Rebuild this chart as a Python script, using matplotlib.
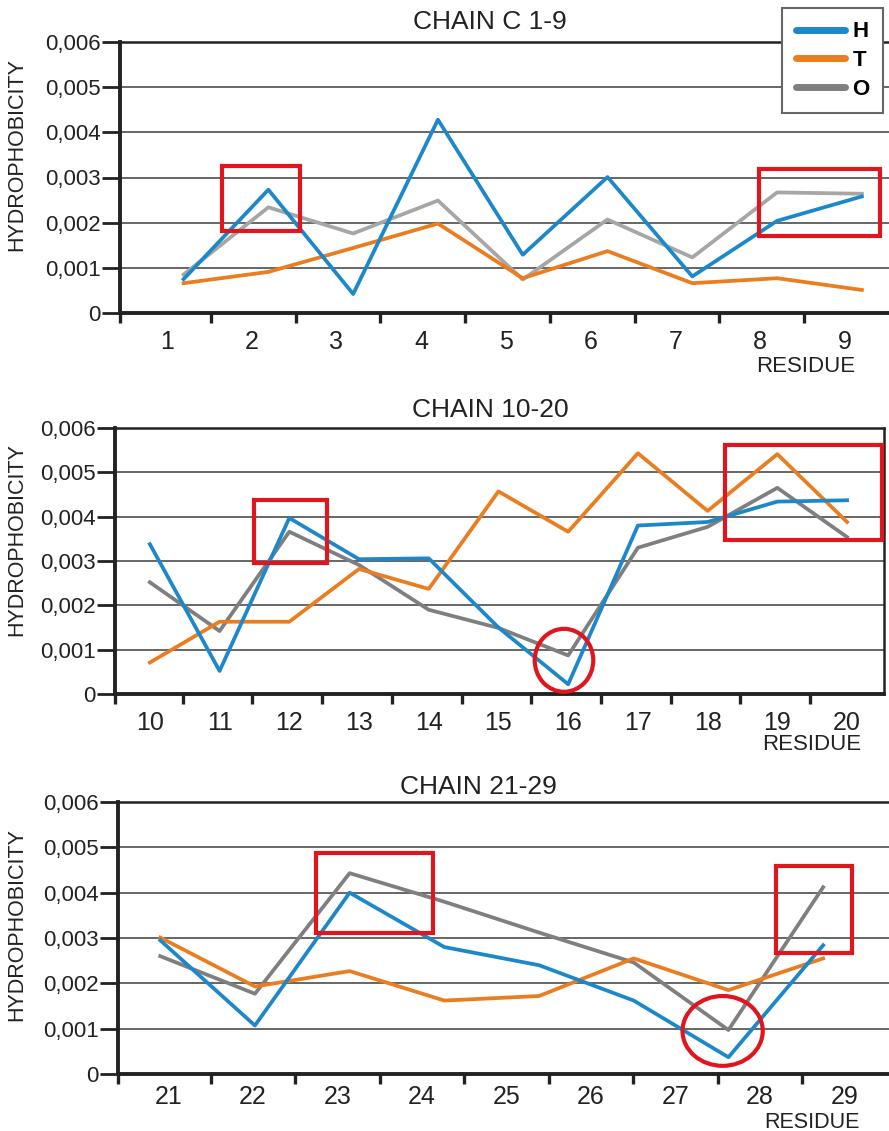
import numpy as np
import matplotlib
matplotlib.use('Agg')
import matplotlib.pyplot as plt
from matplotlib.lines import Line2D
from matplotlib.patches import Rectangle, Ellipse

plt.rcParams['font.family'] = ['Liberation Sans', 'DejaVu Sans']

# chain C 1-9
res1 = [1, 2, 3, 4, 5, 6, 7, 8, 9]
h1 = [0.00075, 0.00273, 0.00042, 0.00428, 0.00129, 0.00301, 0.00081, 0.00204, 0.00258]
t1 = [0.00066, 0.00091, 0.00144, 0.00198, 0.00077, 0.00137, 0.00066, 0.00077, 0.00051]
o1 = [0.00085, 0.00234, 0.00176, 0.00249, 0.00074, 0.00207, 0.00123, 0.00267, 0.00264]

# chain 10-20
res2 = [10, 11, 12, 13, 14, 15, 16, 17, 18, 19, 20]
h2 = [0.00338, 0.00052, 0.00397, 0.00304, 0.00306, 0.0015, 0.00022, 0.0038, 0.00388, 0.00434, 0.00437]
t2 = [0.00071, 0.00163, 0.00163, 0.00282, 0.00237, 0.00457, 0.00366, 0.00543, 0.00413, 0.00541, 0.00388]
o2 = [0.00252, 0.00142, 0.00366, 0.00291, 0.0019, 0.00149, 0.00087, 0.0033, 0.00377, 0.00465, 0.00354]

# chain 21-29 (only 8 points are drawn in the original)
res3 = [21, 22, 23, 24, 25, 26, 27, 28, 29]
h3 = [0.00295, 0.00107, 0.004, 0.0028, 0.0024, 0.00162, 0.00037, 0.00284]
t3 = [0.00301, 0.00193, 0.00227, 0.00162, 0.00172, 0.00255, 0.00185, 0.00255]
o3 = [0.0026, 0.00177, 0.00443, 0.0038, 0.00312, 0.00246, 0.00097, 0.00412]

C_H = '#1d88c9'
C_T = '#e97d20'
C_O = '#7f7f7f'
C_O_LIGHT = '#a6a6a6'
RED = '#e0161e'

W, H = 889, 1131
fig = plt.figure(figsize=(W / 100, H / 100), dpi=100)


def box(left, right, top, bottom):
    return [left / W, 1 - bottom / H, (right - left) / W, (bottom - top) / H]


def fmt(v):
    if v == 0:
        return '0'
    return f'{v:.3f}'.replace('.', ',')


def panel(ax, xs, h, t, o, o_col, lab_pos, labels, tick_pos, xlim, right_spine=False, pad=12):
    ax.plot(xs, o, color=o_col, lw=2.7, zorder=3)
    ax.plot(xs, t, color=C_T, lw=2.7, zorder=4)
    ax.plot(xs, h, color=C_H, lw=2.7, zorder=5)
    ax.set_xlim(*xlim)
    ax.set_ylim(0, 0.006)
    yt = np.arange(0, 0.0061, 0.001)
    ax.set_yticks(yt, [fmt(v) for v in yt])
    ax.yaxis.grid(True, color='#5a5a5a', lw=1.3)
    ax.set_axisbelow(True)
    ax.set_xticks(lab_pos, labels)
    ax.set_xticks([xlim[0]] + list(tick_pos), minor=True)
    ax.tick_params(axis='x', which='major', length=0, labelsize=18, pad=pad, labelcolor='#222222')
    ax.tick_params(axis='x', which='minor', length=7, width=2.4, direction='out', color='#222222')
    ax.tick_params(axis='y', length=13, width=2, labelsize=16, pad=1, color='#222222', labelcolor='#222222')
    for s in ['left', 'bottom']:
        ax.spines[s].set_linewidth(2.8)
        ax.spines[s].set_color('#222222')
    ax.spines['top'].set_linewidth(1.8)
    ax.spines['top'].set_color('#222222')
    ax.spines['right'].set_visible(right_spine)
    ax.spines['right'].set_linewidth(1.8)
    ax.spines['right'].set_color('#222222')


ax1 = fig.add_axes(box(120, 889, 42, 313))
ax2 = fig.add_axes(box(115, 884, 428, 694))
ax3 = fig.add_axes(box(118, 889, 802, 1074))

r1 = np.array(res1)
panel(ax1, r1, h1, t1, o1, C_O_LIGHT, r1 - 0.2, res1, r1[:-1] + 0.32, (0.25, 9.32))
r2 = np.array(res2)
panel(ax2, r2, h2, t2, o2, C_O, r2, res2, r2[:-1] + 0.47, (9.5, 20.53), right_spine=True)
r3 = np.array(res3)
x3 = np.linspace(20.9, 28.75, len(h3))
panel(ax3, x3, h3, t3, o3, C_O, r3, res3, r3[:-1] + 0.5, (20.4, 29.53), pad=8)

# red highlight marks
ax1.add_patch(Rectangle((1.45, 0.00182), 0.92, 0.00143, fill=False, ec=RED, lw=3, zorder=6))
ax1.add_patch(Rectangle((7.79, 0.0017), 1.42, 0.00149, fill=False, ec=RED, lw=3, zorder=6))
ax2.add_patch(Rectangle((11.49, 0.00295), 1.05, 0.00142, fill=False, ec=RED, lw=3, zorder=6))
ax2.add_patch(Rectangle((18.25, 0.00347), 2.25, 0.00215, fill=False, ec=RED, lw=3, zorder=6, clip_on=False))
ax2.add_patch(Ellipse((15.94, 0.00076), 0.84, 0.00142, fill=False, ec=RED, lw=3, zorder=6))
ax3.add_patch(Rectangle((22.74, 0.0031), 1.39, 0.00177, fill=False, ec=RED, lw=3, zorder=6))
ax3.add_patch(Rectangle((28.19, 0.00266), 0.9, 0.00193, fill=False, ec=RED, lw=3, zorder=6))
ax3.add_patch(Ellipse((27.56, 0.00095), 0.95, 0.00154, fill=False, ec=RED, lw=3, zorder=6))

# titles and labels
for (x, y), s in zip([(490, 22), (490, 410), (478, 787)], ['CHAIN C 1-9', 'CHAIN 10-20', 'CHAIN 21-29']):
    fig.text(x / W, 1 - y / H, s, ha='center', va='center', fontsize=19, color='#222222')
for x, y in [(806, 367), (812, 745)]:
    fig.text(x / W, 1 - y / H, 'RESIDUE', ha='center', va='center', fontsize=16, color='#222222')
fig.text(812 / W, 1 - 1128 / H, 'RESIDUE', ha='center', va='baseline', fontsize=15.5, color='#222222')
for y in [155, 540, 925]:
    fig.text(17 / W, 1 - y / H, 'HYDROPHOBICITY', ha='center', va='center', rotation=90,
             fontsize=15.5, color='#222222')

handles = [Line2D([], [], color=c, lw=5, solid_capstyle='round') for c in [C_H, C_T, C_O]]
leg = fig.legend(handles, ['H', 'T', 'O'], loc='upper right', bbox_to_anchor=(883 / W, 1 - 8 / H),
                 borderaxespad=0, frameon=True, fancybox=False, handlelength=2.2, handletextpad=0.35,
                 labelspacing=0.35, borderpad=0.6, prop={'weight': 'bold', 'size': 16})
leg.get_frame().set_edgecolor('#666666')
leg.get_frame().set_linewidth(1.5)
leg.get_frame().set_alpha(1)

fig.savefig('out.png', dpi=100)
